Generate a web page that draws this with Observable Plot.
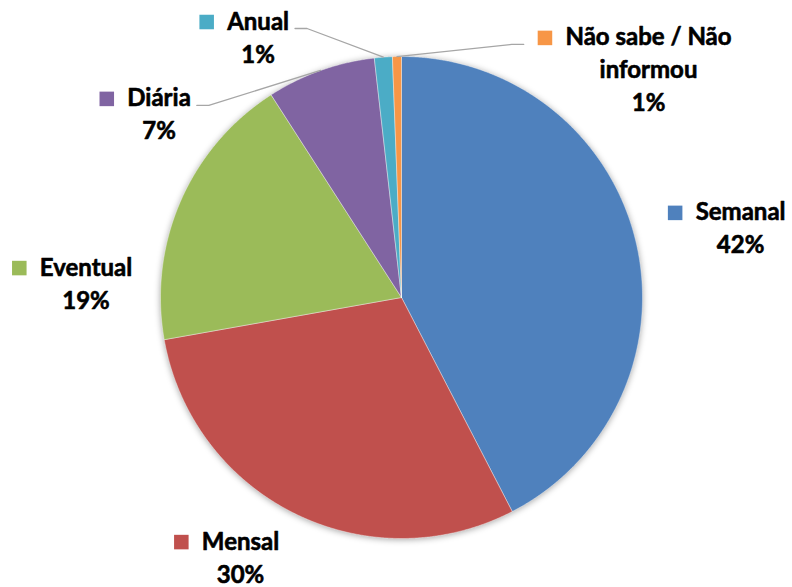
<!DOCTYPE html>
<html><head><meta charset="utf-8">
<script src="https://cdn.jsdelivr.net/npm/d3@7"></script>
<script src="https://cdn.jsdelivr.net/npm/@observablehq/plot@0.6"></script>
<style>body{margin:0;background:#fff}</style>
</head><body><div id="chart"></div>
<script>
// ---- data ----
const categories = ["Semanal","Mensal","Eventual","Diária","Anual","Não sabe / Não informou"];
const nameLines = [["Semanal"],["Mensal"],["Eventual"],["Diária"],["Anual"],["Não sabe / Não","informou"]];
const values = [42.4, 29.8, 18.7, 7.3, 1.2, 0.6];
const colors = ["#4F81BD","#C0504D","#9BBB59","#8064A2","#4BACC6","#F79646"];
// ---- label layout (pie radius = 1, y up) ----
const labelX = [1.407, -0.668, -1.309, -1.006, -0.595, 1.025];
const labelY = [0.320, -1.046, 0.091, 0.793, 1.112, 1.046];
const leaderSide = [null, null, null, "right", "right", "left"];

const W = 792, H = 587, R = 241, CX = 401, CY = 297;
const FONT = "Lato";
const FS = 24;
const LINE = 33 / R;
const px = v => v / R;

const ctx = document.createElement("canvas").getContext("2d");
ctx.font = `bold ${FS}px ${FONT}`;
const measure = s => ctx.measureText(s).width;

// slices
const arcs = d3.pie().sort(null).value(d => d)(values);
const slicePts = [];
arcs.forEach((a, i) => {
  const n = Math.max(2, Math.ceil((a.endAngle - a.startAngle) / (Math.PI / 720)));
  slicePts.push({cat: categories[i], x: 0, y: 0});
  for (let k = 0; k <= n; k++) {
    const t = a.startAngle + (a.endAngle - a.startAngle) * k / n;
    slicePts.push({cat: categories[i], x: Math.sin(t), y: Math.cos(t)});
  }
  slicePts.push({cat: categories[i], x: 0, y: 0});
});

// label text rows
const textRows = [];
categories.forEach((c, i) => {
  const lines = [...nameLines[i], Math.round(values[i]) + "%"];
  lines.forEach((t, j) => textRows.push({text: t, x: labelX[i], y: labelY[i] - j * LINE}));
});

// squares
const squares = categories.map((c, i) => {
  const w = measure(nameLines[i][0]);
  return {cat: c, x: labelX[i] - px(w / 2 + 20.5), y: labelY[i] + px(7.5), w};
});

// leader lines
const leaders = [];
categories.forEach((c, i) => {
  if (!leaderSide[i]) return;
  const a = arcs[i], m = (a.startAngle + a.endAngle) / 2;
  const end = {x: Math.sin(m), y: Math.cos(m)};
  let sx, sy = labelY[i] + px(1), ex;
  if (leaderSide[i] === "right") {
    sx = labelX[i] + px(squares[i].w / 2 + 6); ex = sx + px(12);
  } else {
    sx = squares[i].x - px(7.25 + 14); ex = sx - px(12);
  }
  leaders.push({cat: c, x: sx, y: sy}, {cat: c, x: ex, y: sy}, {cat: c, x: end.x, y: end.y});
});

const chart = Plot.plot({
  width: W, height: H,
  marginLeft: CX - R, marginRight: W - CX - R,
  marginTop: CY - R, marginBottom: H - CY - R,
  x: {domain: [-1, 1], axis: null},
  y: {domain: [-1, 1], axis: null},
  color: {domain: categories, range: colors},
  style: {fontFamily: FONT, background: "#fff", overflow: "visible"},
  marks: [
    Plot.line(slicePts, {x: "x", y: "y", z: "cat", fill: "cat", stroke: "white", strokeWidth: 0.8, strokeOpacity: 0.5, curve: "linear"}),
    Plot.line(leaders, {x: "x", y: "y", z: "cat", stroke: "#a6a6a6", strokeWidth: 1.3}),
    Plot.dot(squares, {x: "x", y: "y", fill: "cat", symbol: "square", r: 8.2, stroke: null}),
    Plot.text(textRows, {x: "x", y: "y", text: "text", fontSize: FS, fontWeight: "bold", fill: "#000", stroke: "#000", strokeWidth: 0.6, textAnchor: "middle", lineAnchor: "bottom", fontFamily: FONT})
  ]
});
const g = chart.querySelector('g[aria-label="line"]');
if (g) g.style.filter = "drop-shadow(0px 1px 3px rgba(0,0,0,0.35))";
document.getElementById("chart").appendChild(chart);
</script>
</body></html>
